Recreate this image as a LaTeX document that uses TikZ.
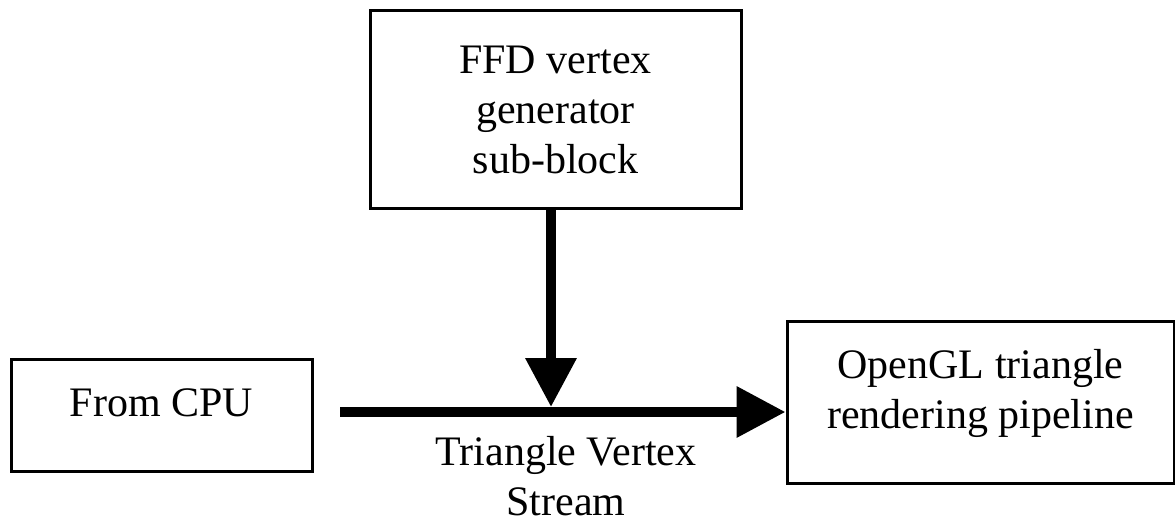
\documentclass[tikz,border=0pt]{standalone}
\usepackage{fontspec}
\setmainfont{Liberation Serif}
\usetikzlibrary{arrows.meta}

\begin{document}
\begin{tikzpicture}[x=1pt, y=-1pt,
  font=\fontsize{42}{50}\selectfont,
  block/.style = {shape=rectangle, draw, line width=3pt, align=center},
  flow/.style = {line width=10pt, -{Triangle[length=49pt,width=49pt]}}]
  \useasboundingbox (0,0) rectangle (1175,524);
  \node[block, minimum width=371pt, minimum height=198pt] (ffd) at (555.5,109.5)
    {FFD vertex\\generator\\sub-block};
  \node[block, minimum width=301pt, minimum height=112pt,
    text height=28pt, text depth=25pt] (cpu) at (161.5,415) {From CPU};
  \node[block, minimum width=387pt, minimum height=162pt,
    text height=79pt, text depth=27pt] (gl) at (980.5,402)
    {OpenGL triangle\\rendering pipeline};
  \node[align=center, inner sep=0pt] (stream) at (566,476) {Triangle Vertex\\Stream};
  \coordinate (start) at (340,412);
  \coordinate (merge) at (551,407);
  \draw[flow] (start) -- (gl.west |- start);
  \draw[flow] (ffd.south -| merge) -- (merge);
\end{tikzpicture}
\end{document}
